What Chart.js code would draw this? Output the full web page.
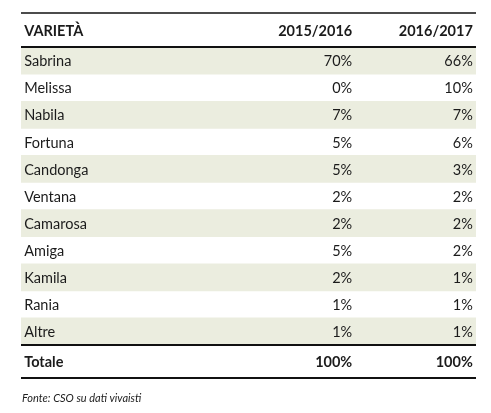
<!DOCTYPE html>
<html>
<head>
<meta charset="utf-8">
<script src="https://cdn.jsdelivr.net/npm/chart.js@4"></script>
<style>
  html, body { margin: 0; padding: 0; background: #fff; }
  #wrap { width: 491px; height: 413px; position: relative; }
</style>
</head>
<body>
<div id="wrap"><canvas id="c"></canvas></div>
<script>
// ===== dati =====
var headers = ['VARIETÀ', '2015/2016', '2016/2017'];
var varieties = ['Sabrina', 'Melissa', 'Nabila', 'Fortuna', 'Candonga', 'Ventana', 'Camarosa', 'Amiga', 'Kamila', 'Rania', 'Altre'];
var share1516 = [70, 0, 7, 5, 5, 2, 2, 5, 2, 1, 1];
var share1617 = [66, 10, 7, 6, 3, 2, 2, 2, 1, 1, 1];
var totalLabel = 'Totale';
var totals = [100, 100];
var source = 'Fonte: CSO su dati vivaisti';

// ---- layout (unità di riga) ----
var HEAD_H = 1.26, TOT_H = 1.22;
var ROWS_END = HEAD_H + varieties.length;
var Y_MAX = ROWS_END + TOT_H;
var COL_X = [0.007, 0.728, 0.993];
var FONT = 'Lato, "Open Sans", sans-serif';
var STRIPE = '#ebeddf';
var INK = '#1b1b1b';

function rowCenter(i) { return HEAD_H + i + 0.5; }

var tablePlugin = {
  id: 'table',
  afterDatasetsDraw: function(chart) {
    var ctx = chart.ctx, x = chart.scales.x, y = chart.scales.y;
    var left = x.getPixelForValue(0), right = x.getPixelForValue(1);
    ctx.save();
    ctx.fillStyle = INK;
    ctx.textBaseline = 'middle';

    // intestazione
    ctx.font = 'bold 14.5px ' + FONT;
    var hy = y.getPixelForValue(HEAD_H / 2) + 1;
    headers.forEach(function(h, i) {
      ctx.textAlign = i === 0 ? 'left' : 'right';
      ctx.fillText(h, x.getPixelForValue(COL_X[i]), hy);
    });

    // righe
    ctx.font = '14.5px ' + FONT;
    varieties.forEach(function(v, i) {
      var ry = y.getPixelForValue(rowCenter(i)) + 1;
      ctx.textAlign = 'left';
      ctx.fillText(v, x.getPixelForValue(COL_X[0]), ry);
      ctx.textAlign = 'right';
      ctx.fillText(share1516[i] + '%', x.getPixelForValue(COL_X[1]), ry);
      ctx.fillText(share1617[i] + '%', x.getPixelForValue(COL_X[2]), ry);
    });

    // totale
    ctx.font = 'bold 14.5px ' + FONT;
    var ty = y.getPixelForValue(ROWS_END + TOT_H / 2) + 1;
    ctx.textAlign = 'left';
    ctx.fillText(totalLabel, x.getPixelForValue(COL_X[0]), ty);
    ctx.textAlign = 'right';
    ctx.fillText(totals[0] + '%', x.getPixelForValue(COL_X[1]), ty);
    ctx.fillText(totals[1] + '%', x.getPixelForValue(COL_X[2]), ty);

    // linee
    ctx.strokeStyle = '#111';
    [[0, 1.5], [HEAD_H, 2], [ROWS_END, 2], [Y_MAX, 2]].forEach(function(l) {
      var py = Math.round(y.getPixelForValue(l[0]));
      ctx.lineWidth = l[1];
      ctx.beginPath(); ctx.moveTo(left, py); ctx.lineTo(right, py); ctx.stroke();
    });

    // fonte
    ctx.font = 'italic 11px ' + FONT;
    ctx.textAlign = 'left';
    ctx.fillStyle = '#222';
    ctx.fillText(source, left + 1, chart.chartArea.bottom + 20);
    ctx.restore();
  }
};

new Chart(document.getElementById('c'), {
  type: 'bar',
  data: {
    datasets: [{
      data: varieties.map(function(v, i) { return { y: rowCenter(i), x: [0, 1] }; }),
      backgroundColor: varieties.map(function(v, i) { return i % 2 === 0 ? STRIPE : 'rgba(0,0,0,0)'; }),
      borderWidth: 0,
      barPercentage: 1,
      categoryPercentage: 1
    }]
  },
  options: {
    indexAxis: 'y',
    responsive: true, maintainAspectRatio: false, animation: false,
    layout: { padding: { left: 21, right: 15, top: 13, bottom: 35 } },
    plugins: { legend: { display: false }, tooltip: { enabled: false } },
    scales: {
      x: { type: 'linear', min: 0, max: 1, display: false, offset: false },
      y: { type: 'linear', min: 0, max: Y_MAX, reverse: true, display: false, offset: false, grid: { offset: false } }
    }
  },
  plugins: [tablePlugin]
});
</script>
</body>
</html>
